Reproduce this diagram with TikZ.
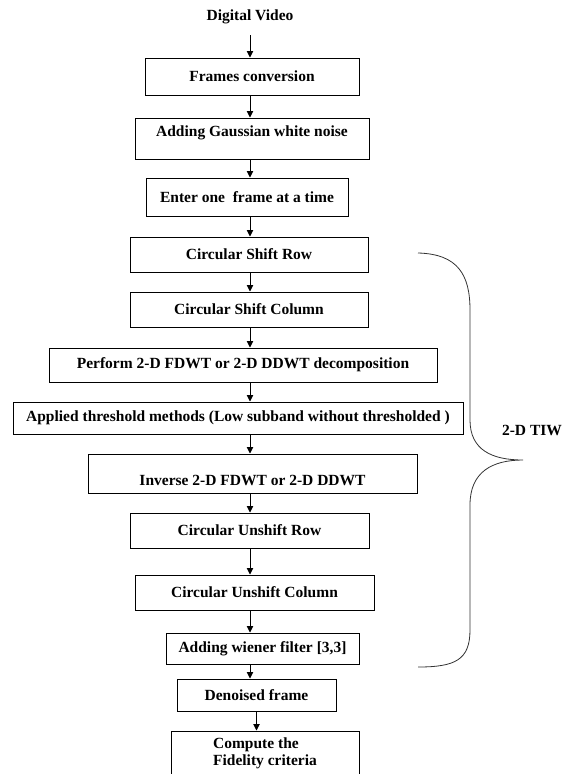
\documentclass[tikz,border=0pt]{standalone}
\usepackage{fontspec}
\setmainfont{Liberation Serif}
\usetikzlibrary{arrows.meta}
\tikzset{
	stage/.style={draw, line width=1pt, inner sep=0pt},
	flow/.style={-{Triangle[length=6.5pt,width=6.5pt]}, line width=0.9pt},
}

\begin{document}
\begin{tikzpicture}[x=1pt, y=-1pt, font=\fontsize{15.5}{17}\selectfont\bfseries]
		%%%%% START %%%%%
		\useasboundingbox (0, 0) rectangle (569, 774);
		\clip (0, 0) rectangle (569, 774);
		
		\node[inner xsep=2pt, inner ysep=11pt] (vid) at (250, 17) {Digital Video};
		
		\node[stage, minimum width=214, minimum height=37] (frm) at (252, 76.5) {Frames conversion};
		\node[stage, minimum width=234, text height=18, text depth=23] (noise) at (252, 138.5) {Adding Gaussian white noise};
		\node[stage, minimum width=202, minimum height=38] (one) at (247, 197) {Enter one\ \ frame at a time};
		
		\node[stage, minimum width=238, minimum height=35] (srow) at (249, 254.5) {Circular Shift Row};
		\node[stage, minimum width=238, minimum height=35] (scol) at (249, 309.5) {Circular Shift Column};
		\node[stage, minimum width=388, minimum height=34] (dec) at (243, 365) {Perform 2-D FDWT or 2-D DDWT decomposition};
		\node[stage, minimum width=450, minimum height=32] (thr) at (238, 418) {Applied threshold methods (Low subband without thresholded )};
		\node[stage, minimum width=329, text height=31, text depth=8] (inv) at (252.5, 473.5) {Inverse 2-D FDWT or 2-D DDWT};
		\node[stage, minimum width=239, minimum height=35] (urow) at (249.5, 530.5) {Circular Unshift Row};
		\node[stage, minimum width=239, minimum height=35] (ucol) at (254.5, 592.5) {Circular Unshift Column};
		\node[stage, minimum width=193, minimum height=31] (wnr) at (262.5, 648.5) {Adding wiener filter [3,3]};
		
		\node[stage, minimum width=159, minimum height=32] (den) at (256.5, 695) {Denoised frame};
		\node[stage, minimum width=188, minimum height=45, align=left] (fid) at (265, 753.5) {Compute the\\Fidelity criteria};
		
		% arrows down the chain
		\draw[flow] (vid) -- (vid |- frm.north);
		\draw[flow] (frm.south -| vid) -- (noise.north -| vid);
		\draw[flow] (noise.south -| vid) -- (one.north -| vid);
		\draw[flow] (one.south -| vid) -- (srow.north -| vid);
		\draw[flow] (srow.south -| vid) -- (scol.north -| vid);
		\draw[flow] (scol.south -| vid) -- (dec.north -| vid);
		\draw[flow] (dec.south -| vid) -- (thr.north -| vid);
		\draw[flow] (thr.south -| vid) -- (inv.north -| vid);
		\draw[flow] (inv.south -| vid) -- (urow.north -| vid);
		\draw[flow] (urow.south -| vid) -- (ucol.north -| vid);
		\draw[flow] (ucol.south -| vid) -- (wnr.north -| vid);
		\draw[flow] (wnr.south -| vid) -- (den.north -| vid);
		\draw[flow] (den.south) -- (den.south |- fid.north);
		
		% brace
		\draw[line width=0.8pt, black!80] (418, 253) .. controls (458, 254) and (470, 275) .. (470, 310)
			-- (470, 420) .. controls (470, 450) and (492, 460) .. (523, 460)
			.. controls (492, 460) and (470, 472) .. (470, 505)
			-- (470, 630) .. controls (470, 660) and (455, 667) .. (418, 667);
		\node (tiw) at (532, 430) {2-D TIW};
		%%%%% END %%%%%
	\end{tikzpicture}
\end{document}
